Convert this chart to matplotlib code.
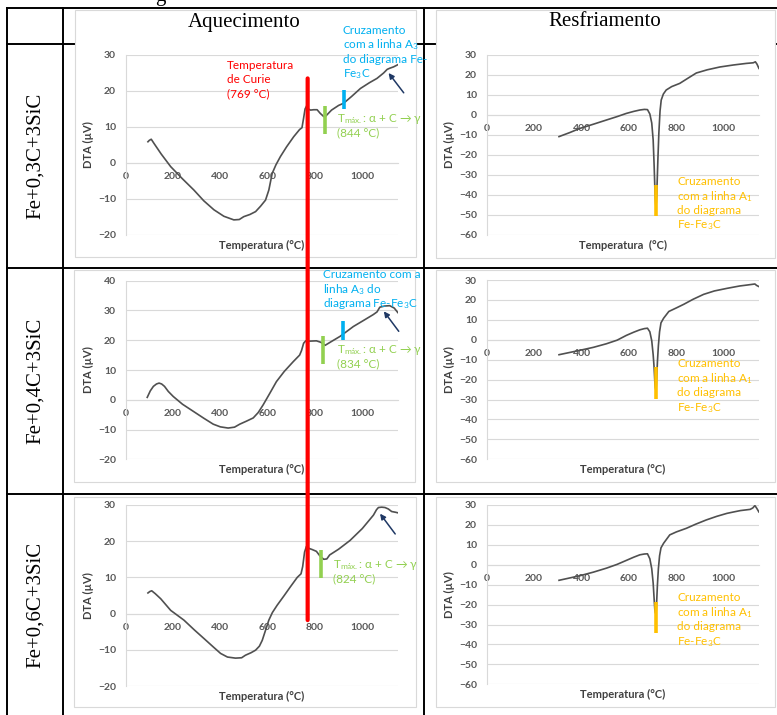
import matplotlib
matplotlib.use("Agg")
import matplotlib.pyplot as plt
from matplotlib.patches import Rectangle, ConnectionPatch
from matplotlib.lines import Line2D
from matplotlib.transforms import offset_copy

plt.rcParams["font.family"] = ["Lato", "DejaVu Sans"]
plt.rcParams["mathtext.fontset"] = "custom"
plt.rcParams["mathtext.rm"] = "Lato"
plt.rcParams["mathtext.it"] = "Lato:italic"
plt.rcParams["mathtext.bf"] = "Lato:bold"
plt.rcParams["mathtext.fallback"] = "stixsans"

# ---------------- data ----------------
row_labels = ["Fe+0,3C+3SiC", "Fe+0,4C+3SiC", "Fe+0,6C+3SiC"]
col_titles = ["Aquecimento", "Resfriamento"]
x_ticks = [0, 200, 400, 600, 800, 1000]
x_max = 1150
heat_ylims = [(-20, 30), (-20, 40), (-20, 30)]
cool_ylim = (-60, 30)

# heating curves (Temperature in °C, DTA in µV)
heat03_T = [94, 100, 108, 120, 150, 190, 240, 288, 330, 373, 415, 457, 480, 499, 525,
            549, 570, 591, 605, 619, 635, 654, 680, 710, 735, 745, 752, 758, 765, 772,
            781, 795, 809, 822, 837, 845, 870, 900, 921, 955, 992, 1030, 1062, 1090,
            1105, 1115, 1132, 1153]
heat03_V = [5.9, 6.3, 6.6, 5.4, 2.5, -1.0, -4.4, -7.5, -10.5, -13.0, -14.8, -15.8, -15.7,
            -14.9, -14.3, -13.5, -12.0, -10.3, -7.5, -2.9, -0.5, 1.8, 4.5, 7.3, 9.3, 9.8,
            12.5, 15.0, 15.9, 15.0, 14.7, 14.8, 14.8, 13.8, 12.9, 13.0, 14.7, 16.0, 16.6,
            18.5, 20.7, 22.3, 23.5, 25.0, 26.0, 26.3, 26.7, 27.4]

heat04_T = [91, 104, 117, 130, 141, 152, 164, 180, 201, 240, 286, 330, 370, 400, 433,
            460, 482, 510, 539, 560, 581, 610, 637, 670, 708, 735, 743, 752, 761, 778,
            806, 825, 843, 870, 906, 935, 962, 1000, 1046, 1062, 1074, 1095, 1116, 1135,
            1150]
heat04_V = [0.8, 3.0, 4.5, 5.3, 5.6, 5.3, 4.5, 2.8, 1.1, -1.5, -3.9, -6.2, -8.2, -9.1,
            -9.5, -9.2, -8.2, -7.2, -6.1, -4.3, -1.7, 2.3, 6.1, 9.5, 12.8, 15.0, 16.5,
            19.0, 19.8, 19.7, 19.8, 19.3, 18.3, 19.6, 21.3, 23.0, 24.6, 26.4, 28.6, 29.5,
            31.1, 31.5, 31.6, 30.8, 29.3]

heat06_T = [94, 102, 110, 125, 148, 190, 246, 290, 331, 370, 401, 430, 464, 490, 506,
            530, 549, 565, 577, 590, 605, 620, 640, 670, 696, 725, 741, 748, 756, 764,
            775, 788, 806, 820, 837, 850, 862, 900, 948, 1000, 1047, 1060, 1068, 1082,
            1096, 1110, 1124, 1140, 1153]
heat06_V = [5.7, 6.1, 6.3, 5.5, 4.1, 0.9, -1.8, -4.5, -6.9, -9.2, -11.0, -12.0, -12.3,
            -12.2, -11.5, -10.8, -10.1, -9.0, -7.4, -4.8, -1.8, 0.3, 2.3, 5.0, 7.4, 10.0,
            11.0, 13.0, 17.0, 18.6, 18.0, 17.7, 17.2, 16.0, 15.0, 15.1, 16.2, 17.8, 20.2,
            23.5, 27.2, 28.7, 29.3, 29.4, 29.3, 28.9, 28.2, 28.0, 27.8]

# cooling curves
cool03_T = [305, 350, 393, 450, 505, 550, 589, 620, 646, 665, 678, 688, 696, 702, 706,
            709, 711, 713, 715, 717, 719, 722, 726, 731, 736, 745, 757, 780, 814, 850,
            884, 930, 983, 1040, 1095, 1124, 1133, 1140, 1148]
cool03_V = [-10.8, -8.8, -6.7, -4.6, -2.5, -0.8, 0.8, 1.8, 2.5, 2.8, 2.7, 0.5, -4.0,
            -12.5, -25.0, -36.0, -42.0, -45.0, -44.0, -40.0, -33.0, -22.0, -9.0, 2.0,
            7.5, 10.5, 12.5, 14.2, 15.8, 18.5, 21.0, 22.6, 24.0, 25.0, 25.8, 26.1, 26.6,
            25.4, 23.3]

cool04_T = [305, 393, 450, 505, 550, 589, 620, 646, 665, 678, 688, 696, 702, 706, 709,
            711, 713, 715, 717, 720, 724, 729, 735, 746, 768, 800, 831, 870, 915, 960,
            1013, 1067, 1100, 1131, 1138, 1148]
cool04_V = [-7.5, -5.3, -3.8, -2.0, -0.2, 2.2, 3.8, 5.0, 5.6, 5.8, 4.0, -0.5, -7.5,
            -14.0, -21.0, -24.0, -25.0, -23.5, -19.0, -11.0, -3.0, 4.0, 8.5, 10.8, 14.2,
            16.0, 17.8, 20.3, 22.8, 24.5, 25.8, 27.0, 27.5, 28.0, 27.3, 26.7]

cool06_T = [305, 393, 450, 505, 550, 589, 620, 646, 665, 678, 688, 696, 702, 706, 709,
            711, 713, 715, 717, 720, 724, 729, 735, 746, 772, 800, 842, 880, 926, 970,
            1013, 1041, 1070, 1111, 1122, 1131, 1138, 1148]
cool06_V = [-7.8, -5.5, -3.7, -1.7, 0.2, 2.2, 3.8, 5.0, 5.4, 5.5, 3.0, -2.0, -9.2, -17.0,
            -22.5, -24.0, -24.5, -23.0, -18.0, -10.0, -2.0, 4.5, 8.5, 10.8, 15.0, 16.5,
            18.3, 20.3, 22.5, 24.3, 25.8, 26.5, 27.2, 27.8, 28.5, 29.7, 28.5, 26.5]

# characteristic temperatures and their marker spans (µV)
curie_T = 769
curie_span = (23.5, -1.8)          # top in first heating chart, bottom in last
tmax_T = [844, 834, 824]
tmax_span = [(8.1, 15.8), (12.0, 21.5), (9.7, 17.5)]
a3_T = [921, 920]
a3_span = [(14.9, 20.3), (20.1, 26.4)]
a1_T = [714, 715, 716]
a1_span = [(-50.5, -35.0), (-29.5, -13.8), (-34.2, -18.8)]

# arrows pointing to the high-temperature event (tail, head)
arrow_tail = [(1175, 19.5), (1154, 23.0), (1139, 22.0)]
arrow_head = [(1111, 25.0), (1091, 29.7), (1075, 27.6)]

heat_T = [heat03_T, heat04_T, heat06_T]
heat_V = [heat03_V, heat04_V, heat06_V]
cool_T = [cool03_T, cool04_T, cool06_T]
cool_V = [cool03_V, cool04_V, cool06_V]

# ---------------- colours ----------------
C_LINE = "#505050"
C_GRID = "#D9D9D9"
C_TICK = "#595959"
C_TITLE = "#404040"
C_RED = "#FF0000"
C_BLUE = "#00B0F0"
C_GREEN = "#92D050"
C_ORANGE = "#FFC000"
C_NAVY = "#1F3864"

W, H = 777, 715
fig = plt.figure(figsize=(W / 100, H / 100), dpi=100)


def fig_box(x0, y0, x1, y1):
    return [x0 / W, 1 - y1 / H, (x1 - x0) / W, (y1 - y0) / H]


def hline(y, x0, x1):
    fig.add_artist(Line2D([x0 / W, x1 / W], [1 - y / H, 1 - y / H], color="black",
                          lw=1.4, zorder=0.5))


def vline(x, y0, y1):
    fig.add_artist(Line2D([x / W, x / W], [1 - y0 / H, 1 - y1 / H], color="black",
                          lw=1.4, zorder=0.5))


# table grid
hline(8, 7, 777)
hline(44, 7, 777)
hline(268, 7, 777)
hline(494, 7, 777)
vline(7, 8, 715)
vline(63, 8, 715)
vline(424, 8, 715)

# chart areas (white panels with light border)
panels = [(75, 10, 416, 257), (436, 10, 775, 258),
          (74, 270, 415, 482), (436, 270, 775, 482),
          (74, 497, 416, 707), (436, 497, 775, 707)]
for (x0, y0, x1, y1) in panels:
    b = fig_box(x0, y0, x1, y1)
    fig.add_artist(Rectangle((b[0], b[1]), b[2], b[3], transform=fig.transFigure,
                             facecolor="white", edgecolor=C_GRID, lw=0.8, zorder=1))

# caption descender above the table, headers and row labels
fig.text(160 / W, 1 - 0.5 / H, "g", family="Liberation Serif", fontsize=15,
         ha="center", va="baseline", zorder=3)
fig.text(244 / W, 1 - 22 / H, col_titles[0], family="Liberation Serif", fontsize=15,
         ha="center", va="center", zorder=3)
fig.text(605 / W, 1 - 22 / H, col_titles[1], family="Liberation Serif", fontsize=15,
         ha="center", va="center", zorder=3)
for lab, yc in zip(row_labels, [156, 381, 605]):
    fig.text(35 / W, 1 - yc / H, lab, family="Liberation Serif", fontsize=15,
             rotation=90, ha="center", va="center", zorder=3)

# plot areas
heat_boxes = [(125.7, 55, 397.8, 235), (125.7, 280.7, 397.8, 459.3), (125.7, 505, 397.8, 686)]
cool_boxes = [(486.7, 55, 759.4, 235), (486.7, 280, 759.4, 459.3), (486.7, 505, 759.4, 684.3)]


def style(ax, ylim, xlabel):
    ax.set_xlim(0, x_max)
    ax.set_ylim(*ylim)
    ax.set_xticks(x_ticks)
    ax.set_yticks(range(ylim[0], ylim[1] + 1, 10))
    ax.set_facecolor("none")
    for s in ("top", "right"):
        ax.spines[s].set_visible(False)
    ax.spines["left"].set_color(C_GRID)
    ax.spines["left"].set_linewidth(0.8)
    ax.spines["bottom"].set_position(("data", 0))
    ax.spines["bottom"].set_color(C_GRID)
    ax.spines["bottom"].set_linewidth(0.8)
    ax.grid(axis="y", color=C_GRID, lw=0.8)
    ax.tick_params(length=0, labelsize=7.5, labelcolor=C_TICK)
    ax.tick_params(axis="x", pad=6.5)
    ax.tick_params(axis="y", pad=7)
    for lbl in ax.get_xticklabels() + ax.get_yticklabels():
        lbl.set_fontweight("bold")
    ax.text(0, 0.5, "DTA (µV)", rotation=90, ha="center", va="center",
            fontsize=8, fontweight="bold", color=C_TITLE,
            transform=offset_copy(ax.transAxes, fig=fig, x=-37, y=0, units="dots"))
    ax.text(0.5, 0, xlabel, ha="center", va="center", fontsize=8,
            fontweight="bold", color=C_TITLE,
            transform=offset_copy(ax.transAxes, fig=fig, x=0, y=-10, units="dots"))


def mark(ax, x, span, color):
    ax.plot([x, x], span, color=color, lw=2.6, solid_capstyle="butt", zorder=4)


def note(ax, x, y, lines, color, step=14.5):
    """Multi-line note with even line spacing; (x, y) is the centre of line one."""
    for k, s in enumerate(lines):
        ax.text(x, y, s, color=color, fontsize=8.5, ha="left", va="baseline",
                zorder=5,
                transform=offset_copy(ax.transData, fig=fig, x=0,
                                      y=-(step * k + 3.5), units="dots"))


heat_axes, cool_axes = [], []
for i in range(3):
    ax = fig.add_axes(fig_box(*heat_boxes[i]), zorder=2)
    style(ax, heat_ylims[i], "Temperatura (°C)")
    ax.plot(heat_T[i], heat_V[i], color=C_LINE, lw=1.2, zorder=3)
    mark(ax, tmax_T[i], tmax_span[i], C_GREEN)
    if i < 2:
        mark(ax, a3_T[i], a3_span[i], C_BLUE)
    ax.annotate("", xy=arrow_head[i], xytext=arrow_tail[i], annotation_clip=False,
                arrowprops=dict(arrowstyle="-|>", color=C_NAVY, lw=1.1,
                                mutation_scale=8, shrinkA=0, shrinkB=0))
    heat_axes.append(ax)

    cx = fig.add_axes(fig_box(*cool_boxes[i]), zorder=2)
    style(cx, cool_ylim, "Temperatura  (°C)" if i == 0 else "Temperatura (°C)")
    cx.plot(cool_T[i], cool_V[i], color=C_LINE, lw=1.2, zorder=3)
    mark(cx, a1_T[i], a1_span[i], C_ORANGE)
    cool_axes.append(cx)

# annotations
note(heat_axes[0], 427, 27.2,
     ["Temperatura", "de Curie", "(%d °C)" % curie_T], C_RED)
note(heat_axes[0], 917, 36.9,
     ["Cruzamento", "com a linha A$_{\\mathrm{3}}$", "do diagrama Fe-", "Fe$_{\\mathrm{3}}$C"],
     C_BLUE)
note(heat_axes[1], 835, 42.0,
     ["Cruzamento com a", "linha A$_{\\mathrm{3}}$ do", "diagrama Fe-Fe$_{\\mathrm{3}}$C"],
     C_BLUE)

tmax_anchor = [(892, 12.3), (892, 16.8), (877, 13.6)]
for i, ax in enumerate(heat_axes):
    note(ax, *tmax_anchor[i],
         ["T$_{\\mathrm{máx.}}$: α + C → γ", "(%d °C)" % tmax_T[i]], C_GREEN)

a1_anchor = [(804, -33.35), (804, -12.15), (804, -16.65)]
for i, cx in enumerate(cool_axes):
    note(cx, *a1_anchor[i],
         ["Cruzamento", "com a linha A$_{\\mathrm{1}}$", "do diagrama", "Fe-Fe$_{\\mathrm{3}}$C"],
         C_ORANGE)

# Curie temperature line across the heating charts
curie = ConnectionPatch(xyA=(curie_T, curie_span[0]), coordsA=heat_axes[0].transData,
                        xyB=(curie_T, curie_span[1]), coordsB=heat_axes[2].transData,
                        color=C_RED, lw=3, zorder=10)
fig.add_artist(curie)

fig.savefig("out.png", dpi=100)
